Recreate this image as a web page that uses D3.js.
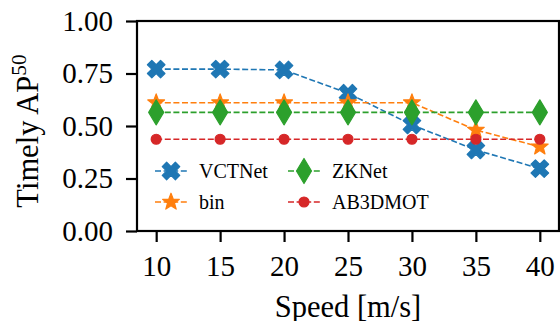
<!DOCTYPE html>
<html><head><meta charset="utf-8">
<script src="https://cdn.jsdelivr.net/npm/d3@7"></script>
<style>body{margin:0;background:#fff;} svg text{font-family:"Liberation Serif",serif;fill:#000;}</style>
</head><body><svg id="c" width="560" height="321" font-family="Liberation Serif"></svg>
<script>
const speeds = [10, 15, 20, 25, 30, 35, 40];
const vctnet = [0.771, 0.771, 0.767, 0.656, 0.505, 0.386, 0.297];
const bin = [0.611, 0.611, 0.611, 0.611, 0.611, 0.481, 0.401];
const zknet = [0.565, 0.565, 0.565, 0.565, 0.565, 0.565, 0.565];
const ab3dmot = [0.437, 0.437, 0.437, 0.437, 0.437, 0.437, 0.437];
const yTicks = [0, 0.25, 0.5, 0.75, 1.0];
const seriesNames = ["VCTNet", "bin", "ZKNet", "AB3DMOT"];
const colors = ["#1f77b4", "#ff7f0e", "#2ca02c", "#d62728"];

const svg = d3.select("#c");
const L = 137, R = 559, T = 21, B = 231;
const x = d3.scaleLinear().domain([8.5, 41.5]).range([L, R]);
const y = d3.scaleLinear().domain([0, 1]).range([B, T]);

function xMarker(r){ const w=r/3; const pts=[[w,w],[r,w],[r,-w],[w,-w],[w,-r],[-w,-r],[-w,-w],[-r,-w],[-r,w],[-w,w],[-w,r],[w,r]];
  return "M"+pts.map(([a,b])=>[((a-b)/Math.SQRT2).toFixed(2),((a+b)/Math.SQRT2).toFixed(2)].join(",")).join("L")+"Z"; }
function starMarker(r){ const ri=r*0.42; let p=[]; for(let i=0;i<10;i++){const a=-Math.PI/2+i*Math.PI/5; const rr=i%2?ri:r; p.push([rr*Math.cos(a),rr*Math.sin(a)]);}
  return "M"+p.map(q=>q.map(v=>v.toFixed(2)).join(",")).join("L")+"Z"; }
function diamondMarker(h,w){ return `M0,${-h}L${w},0L0,${h}L${-w},0Z`; }
function circleMarker(r){ return `M${r},0A${r},${r} 0 1,1 ${-r},0A${r},${r} 0 1,1 ${r},0Z`; }
const markers = [xMarker(9.3), starMarker(8.8), diamondMarker(12.5, 7.5), circleMarker(5)];

const data = [vctnet, bin, zknet, ab3dmot];
const line = d3.line().x((d,i)=>x(speeds[i])).y(d=>y(d));
data.forEach((vals, k) => {
  const g = svg.append("g");
  g.append("path").attr("d", line(vals)).attr("fill","none").attr("stroke",colors[k])
    .attr("stroke-width",1.6).attr("stroke-dasharray","6,2.6");
  g.selectAll("path.m").data(vals).enter().append("path").attr("class","m")
    .attr("d", markers[k]).attr("fill",colors[k]).attr("stroke",colors[k]).attr("stroke-width",1.2).attr("stroke-linejoin","round")
    .attr("transform",(d,i)=>`translate(${x(speeds[i])},${y(d)})`);
});

const fs = 29, lfs = 30.5;
const ax = svg.append("g").attr("transform",`translate(0,${B})`)
  .call(d3.axisBottom(x).tickValues(speeds).tickSize(11).tickPadding(13).tickFormat(d3.format("d")));
const ay = svg.append("g").attr("transform",`translate(${L},0)`)
  .call(d3.axisLeft(y).tickValues(yTicks).tickSize(11).tickPadding(13).tickFormat(d3.format(".2f")));
[ax, ay].forEach(a => {
  a.attr("font-family","Liberation Serif").attr("font-size",fs);
  a.select(".domain").remove();
  a.selectAll(".tick line").attr("stroke","#000").attr("stroke-width",2.2);
  a.selectAll(".tick text").attr("fill","#000");
});
ax.selectAll(".tick text").attr("dy","0.71em");
svg.append("rect").attr("x",L).attr("y",T).attr("width",R-L).attr("height",B-T)
  .attr("fill","none").attr("stroke","#000").attr("stroke-width",2.2);

svg.append("text").attr("x",(L+R)/2).attr("y",316.5).attr("text-anchor","middle")
  .attr("font-size",lfs).text("Speed [m/s]");
const yl = svg.append("text").attr("transform","translate(38,131) rotate(-90)").attr("text-anchor","middle").attr("font-size",lfs);
yl.append("tspan").text("Timely AP");
yl.append("tspan").attr("font-size",lfs*0.7).attr("dy",-12).text("50");

const legPos = [[155,171],[155,202],[288,171],[288,202]];
seriesNames.forEach((n,k)=>{
  const [lx,ly] = legPos[k];
  const g = svg.append("g").attr("transform",`translate(${lx},${ly})`);
  g.append("line").attr("x1",0).attr("x2",32).attr("stroke",colors[k]).attr("stroke-width",1.6).attr("stroke-dasharray","6,2.6");
  g.append("path").attr("d",markers[k]).attr("fill",colors[k]).attr("stroke",colors[k]).attr("stroke-width",1.2).attr("stroke-linejoin","round").attr("transform","translate(16,0)");
  g.append("text").attr("x",44).attr("y",0).attr("dy","0.35em").attr("font-size",20).text(n);
});
svg.selectAll("text").attr("font-family","Liberation Serif");
</script></body></html>
